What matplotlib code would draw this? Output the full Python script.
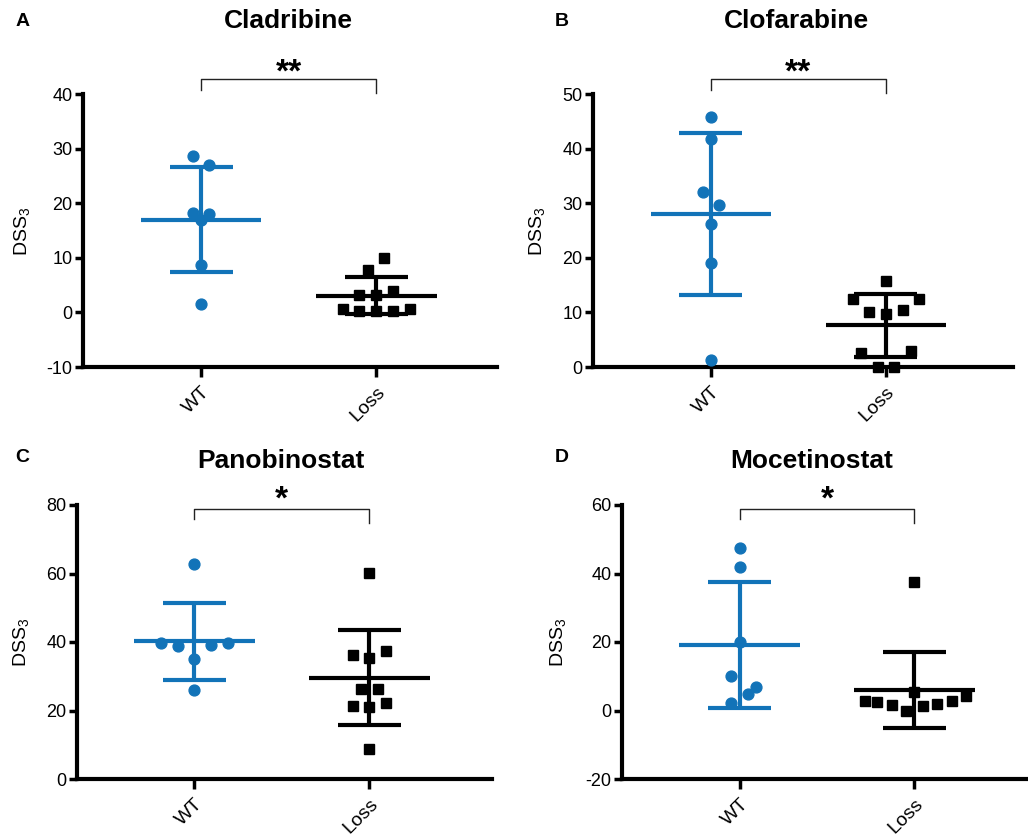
import numpy as np
import matplotlib
matplotlib.use("Agg")
import matplotlib.pyplot as plt
import matplotlib.transforms as mtransforms

plt.rcParams['font.family'] = ['Liberation Sans', 'DejaVu Sans']
plt.rcParams['mathtext.fontset'] = 'custom'
plt.rcParams['mathtext.rm'] = 'Liberation Sans'
plt.rcParams['mathtext.it'] = 'Liberation Sans:italic'
plt.rcParams['mathtext.bf'] = 'Liberation Sans:bold'
plt.rcParams['axes.unicode_minus'] = False

# ---------------- data ----------------
groups = ["WT", "Loss"]
drugs = ["Cladribine", "Clofarabine", "Panobinostat", "Mocetinostat"]
letters = ["A", "B", "C", "D"]
significance = ["**", "**", "*", "*"]

clad_wt = [28.6, 27.0, 18.2, 18.1, 16.9, 8.6, 1.5]
clad_loss = [10.0, 7.8, 3.2, 3.2, 4.0, 0.7, 0.3, 0.3, 0.3, 0.7]
clof_wt = [45.8, 41.8, 32.0, 29.7, 26.2, 19.1, 1.3]
clof_loss = [15.8, 12.5, 12.5, 10.0, 9.7, 10.5, 2.6, 2.9, 0.0, 0.0]
pano_wt = [62.8, 39.6, 38.7, 39.2, 39.8, 35.1, 26.0]
pano_loss = [60.1, 36.2, 37.5, 35.4, 26.4, 26.4, 21.4, 21.0, 22.2, 8.7]
moce_wt = [47.5, 41.8, 19.9, 10.1, 7.0, 4.9, 2.3]
moce_loss = [37.6, 2.9, 2.4, 1.6, 0.0, 1.2, 5.5, 1.9, 2.8, 4.1]

# horizontal scatter (column index of each point, in marker steps)
clad_wt_col = [-1, 1, -1, 1, 0, 0, 0]
clad_loss_col = [1, -1, -2, 0, 2, -4, -2, 0, 2, 4]
clof_wt_col = [0, 0, -1, 1, 0, 0, 0]
clof_loss_col = [0, -4, 4, -2, 0, 2, -3, 3, -1, 1]
pano_wt_col = [0, -4, -2, 2, 4, 0, 0]
pano_loss_col = [0, -2, 2, 0, -1, 1, -2, 0, 2, 0]
moce_wt_col = [0, 0, 0, -1, 2, 1, -1]
moce_loss_col = [0, -6, -4.5, -2.7, -1, 1, 0, 2.7, 4.5, 6.2]

ylims = [(-10, 40), (0, 50), (0, 80), (-20, 60)]
yticks = [[-10, 0, 10, 20, 30, 40], [0, 10, 20, 30, 40, 50],
          [0, 20, 40, 60, 80], [-20, 0, 20, 40, 60]]

panels = [
    (clad_wt, clad_loss, clad_wt_col, clad_loss_col),
    (clof_wt, clof_loss, clof_wt_col, clof_loss_col),
    (pano_wt, pano_loss, pano_wt_col, pano_loss_col),
    (moce_wt, moce_loss, moce_wt_col, moce_loss_col),
]

# ---------------- layout ----------------
W, H = 1028, 836
BLUE = '#1273b8'
BLACK = '#000000'

def fx(px):
    return px / W

def fy(py):
    return 1 - py / H

# axes boxes in pixels: left, top, right, bottom
boxes = [(83, 94, 497, 367), (593, 94, 1013, 367),
         (77, 505, 492, 779), (622, 505, 1028, 779)]
xlims = [(-0.674, 1.69), (-0.674, 1.726), (-0.669, 1.70), (-0.674, 1.65)]
title_pos = [(288, 21), (796, 21), (281, 461), (812, 461)]
letter_pos = [(23, 22), (562, 22), (22, 458), (562, 458)]
ylabel_pos = [(22, 231), (537, 231), (21, 642), (558, 642)]
star_baseline = [82, 82, 509, 509]
bracket = [(1.055, 1.015, 1.004), (1.055, 1.015, 1.004),
           (0.985, 0.949, 0.934), (0.985, 0.949, 0.934)]

fig = plt.figure(figsize=(W / 100, H / 100), dpi=100)

step = 0.0476
mean_hw = 0.345
cap_hw = 0.18

for i, (wt, loss, wtc, lossc) in enumerate(panels):
    l, t, r, b = boxes[i]
    ax = fig.add_axes([fx(l), fy(b), fx(r) - fx(l), (b - t) / H])
    ax.set_xlim(*xlims[i])
    ax.set_ylim(*ylims[i])
    ax.set_yticks(yticks[i])
    ax.set_xticks([0, 1])
    ax.set_xticklabels(groups, rotation=45, ha='right', va='top',
                       rotation_mode='anchor')
    for s in ['top', 'right']:
        ax.spines[s].set_visible(False)
    for s in ['left', 'bottom']:
        ax.spines[s].set_linewidth(3)
        ax.spines[s].set_capstyle('projecting')
    ax.tick_params(axis='y', length=6, width=2.5, labelsize=13, pad=1.5)
    ax.tick_params(axis='x', length=7, width=2.5, labelsize=14, pad=5)
    ax.patch.set_visible(False)

    for gi, (vals, cols, color, marker, ms) in enumerate([
            (wt, wtc, BLUE, 'o', 7.8),
            (loss, lossc, BLACK, 's', 7.0)]):
        v = np.array(vals, dtype=float)
        x = gi + np.array(cols, dtype=float) * step
        m = v.mean()
        sd = v.std(ddof=1)
        ax.plot(x, v, linestyle='none', marker=marker, ms=ms, color=color,
                mec=color, clip_on=False, zorder=3)
        ax.plot([gi - mean_hw, gi + mean_hw], [m, m], color=color, lw=3,
                solid_capstyle='butt', zorder=4, clip_on=False)
        ax.plot([gi, gi], [m - sd, m + sd], color=color, lw=3,
                solid_capstyle='butt', zorder=4, clip_on=False)
        for yy in (m - sd, m + sd):
            ax.plot([gi - cap_hw, gi + cap_hw], [yy, yy], color=color, lw=3,
                    solid_capstyle='butt', zorder=4, clip_on=False)

    # significance bracket
    top, ll, rl = bracket[i]
    tr = ax.get_xaxis_transform()
    ax.plot([0, 0, 1, 1], [ll, top, top, rl], color='#222222', lw=1,
            transform=tr, clip_on=False)
    star_tr = mtransforms.blended_transform_factory(ax.transData, fig.transFigure)
    ax.text(0.5, fy(star_baseline[i]), significance[i], transform=star_tr,
            ha='center', va='baseline', fontsize=24, fontweight='bold',
            clip_on=False)

    fig.text(fx(title_pos[i][0]), fy(title_pos[i][1]), drugs[i], ha='center',
             va='center', fontsize=19, fontweight='bold')
    fig.text(fx(letter_pos[i][0]), fy(letter_pos[i][1]), letters[i],
             ha='center', va='center', fontsize=14, fontweight='bold')
    fig.text(fx(ylabel_pos[i][0]), fy(ylabel_pos[i][1]), 'DSS$_3$',
             rotation=90, ha='center', va='center', fontsize=14)

fig.savefig('out.png', dpi=100)
